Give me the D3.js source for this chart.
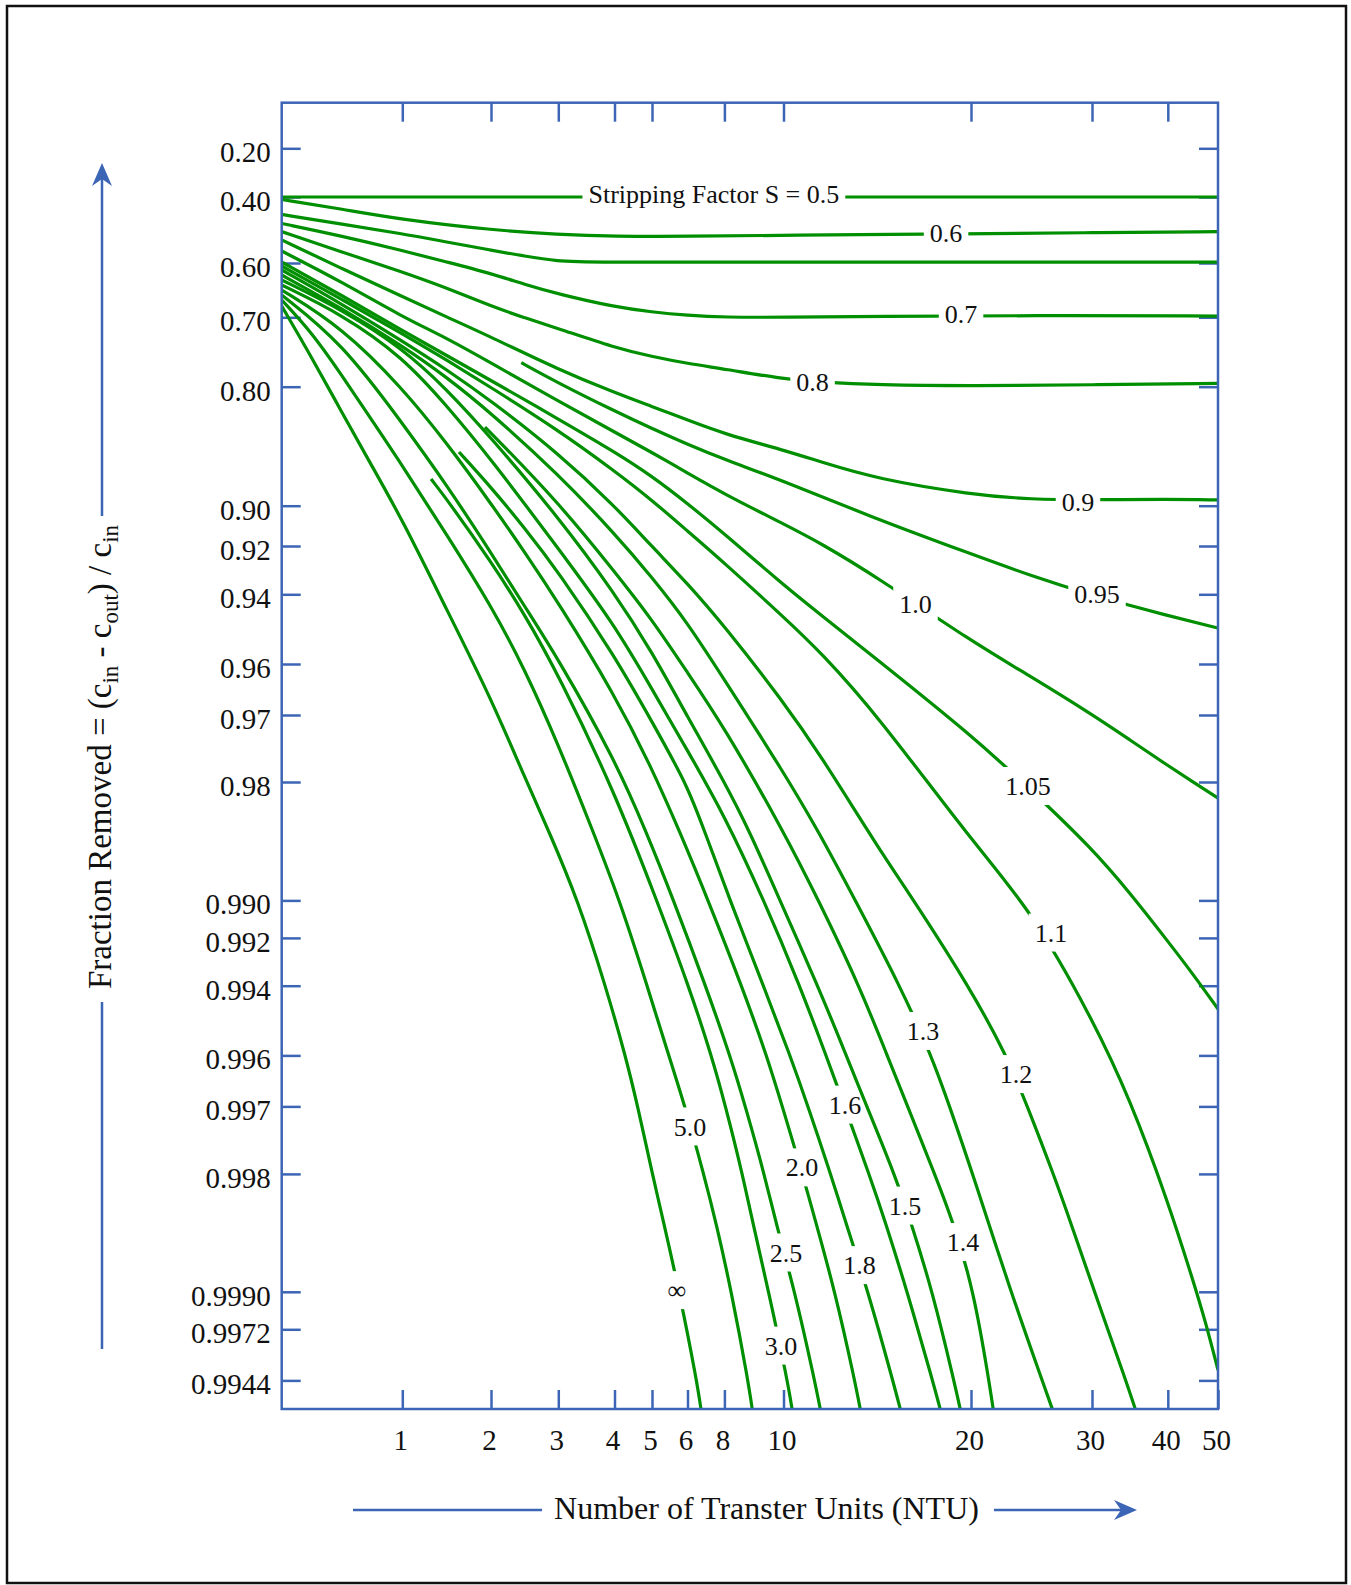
<!DOCTYPE html>
<html><head><meta charset="utf-8">
<script src="https://cdn.jsdelivr.net/npm/d3@7"></script>
<style>
html,body{margin:0;padding:0;background:#fff;}
svg{display:block;}
text{white-space:pre;}
</style></head><body>
<svg id="chart" width="1351" height="1585"></svg>
<script>
// ================= DATA =================
// x axis: Number of Transfer Units (NTU)
const xTickValues = [1, 2, 3, 4, 5, 6, 8, 10, 20, 30, 40, 50];
const xTickLabels = ["1", "2", "3", "4", "5", "6", "8", "10", "20", "30", "40", "50"];
const xTopTickValues = [1, 2, 3, 4, 5, 8, 10, 20, 30, 40];
// y axis: fraction removed (labels as printed on the chart)
const yTickValues = [0.20, 0.40, 0.60, 0.70, 0.80, 0.90, 0.92, 0.94, 0.96, 0.97, 0.98,
  0.990, 0.992, 0.994, 0.996, 0.997, 0.998, 0.9990, 0.9992, 0.9994];
const yTickLabels = ["0.20", "0.40", "0.60", "0.70", "0.80", "0.90", "0.92", "0.94", "0.96", "0.97", "0.98",
  "0.990", "0.992", "0.994", "0.996", "0.997", "0.998", "0.9990", "0.9972", "0.9944"];

// series: [NTU, fraction removed]
const s05 = [[0, 0.40], [10, 0.40], [50, 0.40]];
const s06 = [[0, 0.409], [0.5, 0.443], [1, 0.478], [2, 0.510], [3, 0.5235], [4, 0.529], [6, 0.529], [10, 0.5256], [20, 0.5215], [30, 0.518], [50, 0.515]];
const s065 = [[0, 0.461], [0.5, 0.492], [1, 0.521], [1.5, 0.545], [2, 0.567], [2.5, 0.583], [3, 0.5957], [3.5, 0.598], [10, 0.598], [50, 0.598]];
const s07 = [[0, 0.490], [0.5, 0.528], [1, 0.568], [1.5, 0.5975], [2, 0.6216], [2.5, 0.6428], [3, 0.6607], [4, 0.683], [5, 0.6915], [6, 0.697], [8, 0.7001], [10, 0.700], [15, 0.6985], [25, 0.697], [50, 0.698]];
const s08 = [[0, 0.515], [0.5, 0.572], [1, 0.6186], [1.5, 0.6496], [2, 0.6816], [2.5, 0.701], [3, 0.719], [4, 0.7488], [5, 0.7615], [6, 0.771], [8, 0.7782], [10, 0.7908], [12, 0.7948], [15, 0.798], [20, 0.7992], [30, 0.7978], [50, 0.796]];
const s09 = [[0, 0.539], [0.5, 0.612], [1, 0.665], [1.5, 0.6995], [2, 0.7326], [3, 0.7789], [4, 0.8067], [5, 0.8218], [6, 0.8353], [8, 0.8482], [10, 0.8617], [12, 0.871], [15, 0.8832], [20, 0.8933], [25, 0.8963], [30, 0.8966], [40, 0.896], [50, 0.8966]];
const s095 = [[2.45, 0.7699], [3, 0.7957], [4, 0.8264], [5, 0.8433], [6, 0.857], [8, 0.8691], [10, 0.8845], [15, 0.9073], [20, 0.9237], [25, 0.9331], [30, 0.9404], [40, 0.947], [50, 0.9507]];
const s10 = [[0, 0.5695], [0.5, 0.6384], [1, 0.6993], [1.5, 0.7342], [2, 0.7703], [3, 0.816], [4, 0.8464], [5, 0.8637], [6, 0.879], [8, 0.893], [10, 0.9096], [12, 0.9188], [15, 0.9336], [20, 0.9543], [25, 0.9628], [30, 0.9699], [35, 0.9742], [40, 0.9779], [45, 0.98], [50, 0.9818]];
const s105 = [[0, 0.5975], [0.5, 0.6633], [1, 0.7222], [1.5, 0.76], [2, 0.7926], [3, 0.8343], [4, 0.8631], [5, 0.8812], [6, 0.8987], [8, 0.9144], [10, 0.9366], [12, 0.9468], [15, 0.959], [20, 0.9734], [25, 0.98095], [30, 0.98645], [35, 0.98955], [40, 0.99216], [45, 0.99356], [50, 0.99476]];
const s11 = [[0, 0.6063], [0.5, 0.6704], [1, 0.7271], [1.5, 0.7663], [2, 0.8009], [3, 0.8447], [4, 0.8775], [5, 0.8967], [6, 0.9131], [8, 0.9277], [10, 0.9474], [12, 0.9572], [15, 0.97], [20, 0.98577], [25, 0.99059], [30, 0.99503], [35, 0.99687], [40, 0.998295], [45, 0.998928], [47.5, 0.999162], [50, 0.999364]];
const s12 = [[0, 0.6145], [0.5, 0.6782], [1, 0.7388], [1.5, 0.7789], [2, 0.8157], [3, 0.8642], [4, 0.90], [5, 0.9203], [6, 0.936], [8, 0.9501], [10, 0.9677], [12, 0.97658], [15, 0.98628], [16.95, 0.99], [19.87, 0.994], [22.95, 0.996], [24.66, 0.997], [26.81, 0.998], [28.25, 0.9985], [30.32, 0.999], [34.47, 0.9994], [35.87, 0.9995]];
const s13 = [[0, 0.6246], [0.5, 0.6855], [1, 0.7463], [1.5, 0.7884], [2, 0.8284], [3, 0.8799], [4, 0.9142], [5, 0.9336], [6, 0.9491], [8, 0.9634], [10, 0.97875], [11.86, 0.985], [13.83, 0.99], [16.21, 0.994], [17.89, 0.996], [18.86, 0.997], [20.14, 0.998], [23.29, 0.999], [25.88, 0.9994], [26.83, 0.9995]];
const s14 = [[1.932, 0.8419], [2, 0.8473], [3, 0.898], [4, 0.9313], [5, 0.9482], [6, 0.9619], [8, 0.9722], [10, 0.985], [11.87, 0.99], [14.04, 0.994], [15.53, 0.996], [16.62, 0.997], [18.06, 0.998], [19.07, 0.9985], [20.24, 0.999], [21.48, 0.9994], [21.88, 0.9995]];
const s15 = [[0, 0.6344], [0.5, 0.6876], [1, 0.7493], [1.5, 0.8027], [2, 0.8513], [3, 0.9061], [4, 0.9395], [5, 0.9571], [6, 0.9703], [8, 0.98], [8.85, 0.985], [9.88, 0.99], [11.83, 0.994], [13.35, 0.996], [14.44, 0.997], [15.92, 0.998], [16.81, 0.9985], [17.95, 0.999], [19.09, 0.9994], [19.47, 0.9995]];
const s16 = [[0, 0.6441], [0.5, 0.6953], [1, 0.7615], [1.5, 0.8207], [2, 0.8688], [3, 0.9212], [4, 0.9497], [5, 0.9653], [6, 0.9758], [8, 0.98354], [9.34, 0.99], [10.87, 0.994], [12.27, 0.996], [13.26, 0.997], [14.56, 0.998], [15.45, 0.9985], [16.6, 0.999], [17.95, 0.9994], [18.41, 0.9995]];
const s18 = [[1.639, 0.8633], [2, 0.8886], [2.5, 0.9116], [3, 0.9313], [4, 0.958], [5, 0.9712], [6, 0.9804], [6.92, 0.985], [8.19, 0.99], [9.32, 0.994], [10.35, 0.996], [11.31, 0.997], [12.51, 0.998], [13.33, 0.9985], [14.51, 0.999], [15.83, 0.9994], [16.28, 0.9995]];
const s20 = [[0, 0.6533], [0.5, 0.7172], [1, 0.8014], [1.5, 0.8558], [2, 0.8987], [2.5, 0.9228], [3, 0.9428], [4, 0.9663], [5, 0.9783], [5.775, 0.985], [7.12, 0.99], [8.585, 0.994], [9.43, 0.996], [9.96, 0.997], [11.01, 0.998], [11.73, 0.9985], [12.75, 0.999], [13.8, 0.9994], [14.13, 0.9995]];
const s25 = [[0, 0.6624], [0.5, 0.7413], [1, 0.8382], [1.5, 0.8871], [2, 0.9231], [2.5, 0.9441], [3, 0.9588], [4, 0.977], [4.84, 0.985], [5.61, 0.99], [6.98, 0.994], [8.19, 0.996], [8.71, 0.997], [9.35, 0.998], [9.74, 0.9985], [10.61, 0.999], [11.66, 0.9994], [12.0, 0.9995]];
const s30 = [[1.324, 0.8832], [1.5, 0.896], [2, 0.9271], [2.5, 0.9466], [3, 0.9623], [4, 0.9811], [5.135, 0.99], [6.06, 0.994], [7.3, 0.996], [8.04, 0.997], [8.61, 0.998], [8.96, 0.9985], [9.5, 0.999], [10.21, 0.9994], [10.49, 0.9995]];
const s50 = [[0, 0.6712], [0.25, 0.7255], [0.5, 0.7866], [0.75, 0.8359], [1, 0.8736], [1.5, 0.9148], [2, 0.9438], [2.5, 0.9611], [3, 0.9749], [3.616, 0.985], [4.14, 0.99], [4.87, 0.994], [5.47, 0.996], [5.93, 0.997], [6.88, 0.998], [7.55, 0.9985], [8.24, 0.999], [8.8, 0.9994], [8.96, 0.9995]];
const sInf = [[0, 0.6816], [0.25, 0.763], [0.5, 0.828], [0.75, 0.8743], [1, 0.9075], [1.5, 0.9451], [2, 0.967], [2.53, 0.98], [2.86, 0.985], [3.35, 0.99], [3.84, 0.994], [4.29, 0.996], [4.62, 0.997], [5.01, 0.998], [5.33, 0.9985], [5.77, 0.999], [6.5, 0.9994], [6.76, 0.9995]];

const seriesNames = ["0.5", "0.6", "unlabeled", "0.7", "0.8", "0.9", "0.95", "1.0", "1.05", "1.1", "1.2", "1.3", "1.4", "1.5", "1.6", "1.8", "2.0", "2.5", "3.0", "5.0", "∞"];
const seriesData = [s05, s06, s065, s07, s08, s09, s095, s10, s105, s11, s12, s13, s14, s15, s16, s18, s20, s25, s30, s50, sInf];

// curve labels: which series, text, and where on the curve (NTU, fraction)
const labelSeries = ["0.5", "0.6", "0.7", "0.8", "0.9", "0.95", "1.0", "1.05", "1.1", "1.2", "1.3", "1.4", "1.5", "1.6", "1.8", "2.0", "2.5", "3.0", "5.0", "∞"];
const labelTexts = ["Stripping Factor S = 0.5", "0.6", "0.7", "0.8", "0.9", "0.95", "1.0", "1.05", "1.1", "1.2", "1.3", "1.4", "1.5", "1.6", "1.8", "2.0", "2.5", "3.0", "5.0", "∞"];
const labelNTU = [7.43, 18.67, 19.47, 11.55, 28.84, 30.66, 17.04, 24.71, 26.61, 23.72, 17.44, 19.57, 16.48, 13.28, 14.05, 10.99, 10.13, 9.92, 6.14, 5.70];
const labelFrac = [0.39, 0.5176, 0.6947, 0.7941, 0.8978, 0.9399, 0.9433, 0.98046, 0.99174, 0.9964, 0.99539, 0.99866, 0.99834, 0.99697, 0.99883, 0.99792, 0.99874, 0.99927, 0.99734, 0.99899];

const xTitle = "Number of Transter Units (NTU)";

// ================= LAYOUT =================
const W = 1351, H = 1585;
const plot = {left: 281.7, top: 102.7, width: 936.3, height: 1306.3};
// the printed axes are hand-spaced: piecewise scales anchored at the tick marks
const xAnchorDomain = [0, 1, 2, 3, 4, 5, 6, 8, 10, 20, 30, 40, 50];
const xAnchorRange = [0, 120.6, 209.3, 276.6, 332.8, 370.3, 405.8, 442.7, 501.8, 689.3, 810.3, 886.1, 936.3];
const yAnchorRange = [45.6, 94.3, 160.3, 214.6, 284, 403, 443.3, 491.6, 561.3, 612.3, 679.3,
  797.7, 835.2, 883, 952.7, 1003.7, 1071.2, 1189.1, 1226.6, 1277.7];

const serif = "'Liberation Serif','Times New Roman',Times,serif";
const axisColor = "#3d65b5";
const curveColor = "#008f00";
const textColor = "#111";
const tickLen = 19;

const svg = d3.select("#chart");
svg.append("rect").attr("width", W).attr("height", H).attr("fill", "#fff");
svg.append("rect").attr("x", 7).attr("y", 6).attr("width", 1339).attr("height", 1577)
  .attr("fill", "none").attr("stroke", "#111").attr("stroke-width", 2.5);

const defs = svg.append("defs");
defs.append("clipPath").attr("id", "plotClip").append("rect")
  .attr("x", 0).attr("y", 0).attr("width", plot.width).attr("height", plot.height);

const x = d3.scaleLinear().domain(xAnchorDomain).range(xAnchorRange);
const yLog = d3.scaleLog().domain(yTickValues.map(f => 1 - f)).range(yAnchorRange);
const y = f => yLog(1 - f);

const g = svg.append("g").attr("transform", `translate(${plot.left},${plot.top})`);

function styleAxis(sel, fontSize) {
  sel.select(".domain").remove();
  sel.attr("font-family", serif).attr("font-size", fontSize);
  sel.selectAll(".tick line").attr("stroke", axisColor).attr("stroke-width", 2.5);
  sel.selectAll(".tick text").attr("fill", textColor);
}

// left axis
const gyL = g.append("g").call(d3.axisLeft(yLog)
  .tickValues(yTickValues.map(f => 1 - f))
  .tickSizeInner(-tickLen).tickSizeOuter(0).tickPadding(11)
  .tickFormat((d, i) => yTickLabels[i]));
styleAxis(gyL, 29);
gyL.selectAll(".tick text").attr("dy", "0.46em");

// right axis
const gyR = g.append("g").attr("transform", `translate(${plot.width},0)`).call(d3.axisRight(yLog)
  .tickValues(yTickValues.map(f => 1 - f))
  .tickSizeInner(-tickLen).tickSizeOuter(0).tickFormat(""));
styleAxis(gyR, 29);

// bottom axis
const gxB = g.append("g").attr("transform", `translate(0,${plot.height})`).call(d3.axisBottom(x)
  .tickValues(xTickValues)
  .tickSizeInner(-tickLen).tickSizeOuter(0).tickPadding(20)
  .tickFormat((d, i) => xTickLabels[i]));
styleAxis(gxB, 29);
gxB.selectAll(".tick text").attr("dx", -2);

// top axis
const gxT = g.append("g").call(d3.axisTop(x)
  .tickValues(xTopTickValues)
  .tickSizeInner(-tickLen).tickSizeOuter(0).tickFormat(""));
styleAxis(gxT, 29);

// curves + labels
const curvesG = g.append("g").attr("clip-path", "url(#plotClip)");
const labelG = g.append("g").attr("font-family", serif).attr("font-size", 26)
  .attr("fill", textColor).attr("text-anchor", "middle");

const labelBox = {};
labelSeries.forEach((name, i) => {
  const cx = x(labelNTU[i]), cy = y(labelFrac[i]);
  const t = labelG.append("text").attr("x", cx).attr("y", cy).attr("dy", "0.35em").text(labelTexts[i]);
  labelBox[name] = {cx, cy, w: t.node().getComputedTextLength()};
});

const line = d3.line()
  .x(d => x(d[0]))
  .y(d => y(d[1]))
  .curve(d3.curveBasis);

const padX = 6, halfH = 19;
seriesNames.forEach((name, i) => {
  const b = labelBox[name];
  const p = curvesG.append("path").datum(seriesData[i])
    .attr("d", line).attr("fill", "none").attr("stroke", curveColor)
    .attr("stroke-width", 3.2).attr("stroke-linejoin", "round").attr("stroke-linecap", "butt");
  if (b) {
    const m = defs.append("mask").attr("id", "mask" + i).attr("maskUnits", "userSpaceOnUse")
      .attr("x", -20).attr("y", -20).attr("width", plot.width + 40).attr("height", plot.height + 40);
    m.append("rect").attr("x", -20).attr("y", -20).attr("width", plot.width + 40).attr("height", plot.height + 40).attr("fill", "#fff");
    m.append("rect").attr("x", b.cx - b.w / 2 - padX).attr("y", b.cy - halfH)
      .attr("width", b.w + 2 * padX).attr("height", 2 * halfH).attr("fill", "#000");
    p.attr("mask", `url(#mask${i})`);
  }
});

// plot frame
g.append("rect").attr("width", plot.width).attr("height", plot.height)
  .attr("fill", "none").attr("stroke", axisColor).attr("stroke-width", 2.5);

// arrowhead helper (tip at origin pointing +x)
const arrowPath = "M0,0 L-23,-10 L-16,0 L-23,10 Z";

// x title
const xt = svg.append("text").attr("x", 766.5).attr("y", 1519).attr("text-anchor", "middle")
  .attr("font-family", serif).attr("font-size", 32).attr("fill", textColor).text(xTitle);
const xtw = xt.node().getComputedTextLength();
svg.append("line").attr("x1", 353).attr("x2", 766.5 - xtw / 2 - 12).attr("y1", 1510).attr("y2", 1510)
  .attr("stroke", axisColor).attr("stroke-width", 2.5);
svg.append("line").attr("x1", 766.5 + xtw / 2 + 15).attr("x2", 1122).attr("y1", 1510).attr("y2", 1510)
  .attr("stroke", axisColor).attr("stroke-width", 2.5);
svg.append("path").attr("d", arrowPath).attr("transform", "translate(1137,1510)").attr("fill", axisColor);

// y title
const ytx = 111, yty = 757;
const yt = svg.append("text").attr("transform", `translate(${ytx},${yty}) rotate(-90)`)
  .attr("text-anchor", "middle").attr("font-family", serif).attr("font-size", 33).attr("fill", textColor);
yt.append("tspan").text("Fraction Removed = (c");
yt.append("tspan").attr("font-size", 23).attr("dy", 7).text("in");
yt.append("tspan").attr("dy", -7).text(" - c");
yt.append("tspan").attr("font-size", 23).attr("dy", 7).text("out");
yt.append("tspan").attr("dy", -7).text(") / c");
yt.append("tspan").attr("font-size", 23).attr("dy", 7).text("in");
const ytl = yt.node().getComputedTextLength();
svg.append("line").attr("x1", 102).attr("x2", 102).attr("y1", 1349).attr("y2", yty + ytl / 2 + 13)
  .attr("stroke", axisColor).attr("stroke-width", 2.5);
svg.append("line").attr("x1", 102).attr("x2", 102).attr("y1", yty - ytl / 2 - 9).attr("y2", 178)
  .attr("stroke", axisColor).attr("stroke-width", 2.5);
svg.append("path").attr("d", arrowPath).attr("transform", "translate(102,163) rotate(-90)").attr("fill", axisColor);
</script>
</body></html>
